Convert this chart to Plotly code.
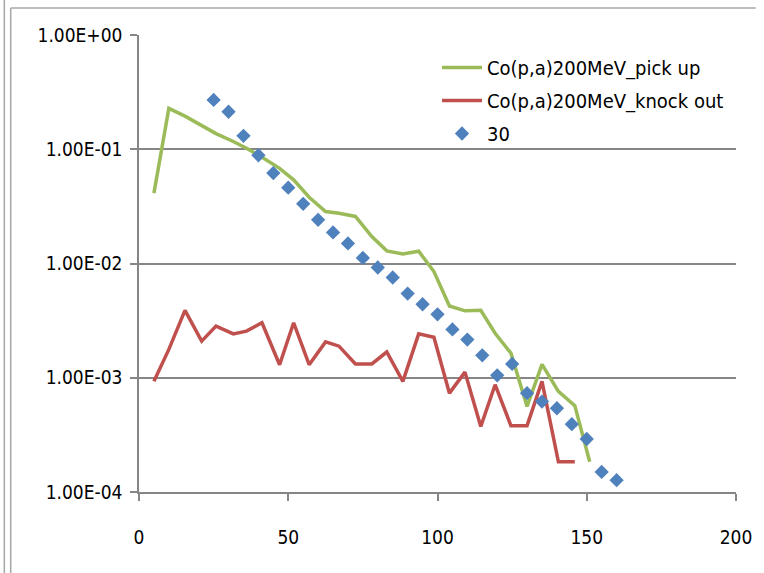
import plotly.graph_objects as go

# ---- data ----
x_curve = [5, 10, 15.4, 21, 25.8, 31.6, 36, 41.2, 47.1, 51.8, 57, 62.5, 67, 72.5, 78, 83,
           88.4, 93.7, 98.8, 104, 109.2, 114.5, 119.3, 124.6, 130, 135, 140.5, 146, 151]
pick_up = [0.0413, 0.228, 0.195, 0.163, 0.137, 0.117, 0.102, 0.085, 0.068, 0.054, 0.038,
           0.0285, 0.0275, 0.0258, 0.0172, 0.0129, 0.0121, 0.0128, 0.0085, 0.00425,
           0.00385, 0.0039, 0.00245, 0.00164, 0.00056, 0.00131, 0.00076, 0.00057, 0.000184]
knock_out = [9.3e-4, 1.77e-3, 3.89e-3, 2.09e-3, 2.83e-3, 2.42e-3, 2.56e-3, 3.03e-3, 1.30e-3,
             3.03e-3, 1.30e-3, 2.06e-3, 1.89e-3, 1.32e-3, 1.32e-3, 1.68e-3, 9.3e-4, 2.42e-3,
             2.26e-3, 7.33e-4, 1.12e-3, 3.74e-4, 8.69e-4, 3.81e-4, 3.81e-4, 9.3e-4, 1.84e-4,
             1.84e-4]
x_30 = [25, 30, 35, 40, 45, 50, 55, 60, 65, 70, 75, 80, 85, 90, 95, 100, 105, 110, 115,
        120, 125, 130, 135, 140, 145, 150, 155, 160]
y_30 = [0.270, 0.213, 0.131, 0.0886, 0.0619, 0.0461, 0.0333, 0.0241, 0.0187, 0.0150,
        0.0112, 0.00923, 0.00754, 0.00545, 0.00440, 0.00359, 0.00265, 0.00216, 0.00157,
        0.00105, 0.00132, 7.33e-4, 6.19e-4, 5.41e-4, 3.92e-4, 2.91e-4, 1.50e-4, 1.27e-4]

names = ["Co(p,a)200MeV_pick up", "Co(p,a)200MeV_knock out", "30"]
y_tickvals = [1, 0.1, 0.01, 0.001, 0.0001]
y_ticktext = ["1.00E+00", "1.00E-01", "1.00E-02", "1.00E-03", "1.00E-04"]
x_tickvals = [0, 50, 100, 150, 200]

FONT = "Liberation Sans Narrow, Arial Narrow, DejaVu Sans Condensed, sans-serif"
W, H = 764, 573
ML, MR, MT, MB = 139, 20, 35, 81

fig = go.Figure()
fig.add_trace(go.Scatter(x=x_curve, y=pick_up, mode="lines", name=names[0],
                         line=dict(color="#9BBB59", width=3.5), legendgroup="a"))
fig.add_trace(go.Scatter(x=x_curve[:len(knock_out)], y=knock_out, mode="lines", name=names[1],
                         line=dict(color="#C0504D", width=3.5), legendgroup="b"))
fig.add_trace(go.Scatter(x=x_30, y=y_30, mode="markers", name=names[2],
                         marker=dict(symbol="diamond", color="#4F81BD", size=11), legendgroup="c"))

pw = W - ML - MR
ph = H - MT - MB
def px(xp):
    return (xp - ML) / pw
def py(yp):
    return 1 - (yp - MT) / ph

shapes = [
    dict(type="line", xref="paper", yref="paper", x0=px(2.5), x1=px(2.5), y0=py(0), y1=py(H),
         line=dict(color="#A6A6A6", width=1.5)),
    dict(type="line", xref="paper", yref="paper", x0=px(9), x1=px(9), y0=py(8), y1=py(H),
         line=dict(color="#A6A6A6", width=1.5)),
    dict(type="line", xref="paper", yref="paper", x0=px(9), x1=px(W), y0=py(8), y1=py(8),
         line=dict(color="#A6A6A6", width=1.5)),
]

fig.update_layout(
    width=W, height=H,
    margin=dict(l=ML, r=MR, t=MT, b=MB, pad=0),
    paper_bgcolor="white", plot_bgcolor="white",
    font=dict(family=FONT, size=19, color="#000000"),
    showlegend=True,
    legend=dict(x=px(441), y=py(48), xanchor="left", yanchor="top",
                bgcolor="rgba(0,0,0,0)", font=dict(family=FONT, size=20),
                itemwidth=40, tracegroupgap=4),
    shapes=shapes,
)
fig.update_xaxes(range=[0, 200], tickvals=x_tickvals, showgrid=False, zeroline=False,
                 showline=True, linecolor="#868686", linewidth=1.5,
                 ticks="outside", ticklen=7, tickcolor="#868686", tickwidth=1.5,
                 ticklabelstandoff=20, tickfont=dict(family=FONT, size=19))
fig.update_yaxes(type="log", range=[-4, 0], tickvals=y_tickvals, ticktext=y_ticktext,
                 showgrid=True, gridcolor="#868686", gridwidth=1.5, zeroline=False,
                 showline=True, linecolor="#868686", linewidth=1.5,
                 ticks="outside", ticklen=7, tickcolor="#868686", tickwidth=1.5,
                 ticklabelstandoff=4, tickfont=dict(family=FONT, size=19))

fig.write_html("out.html")
